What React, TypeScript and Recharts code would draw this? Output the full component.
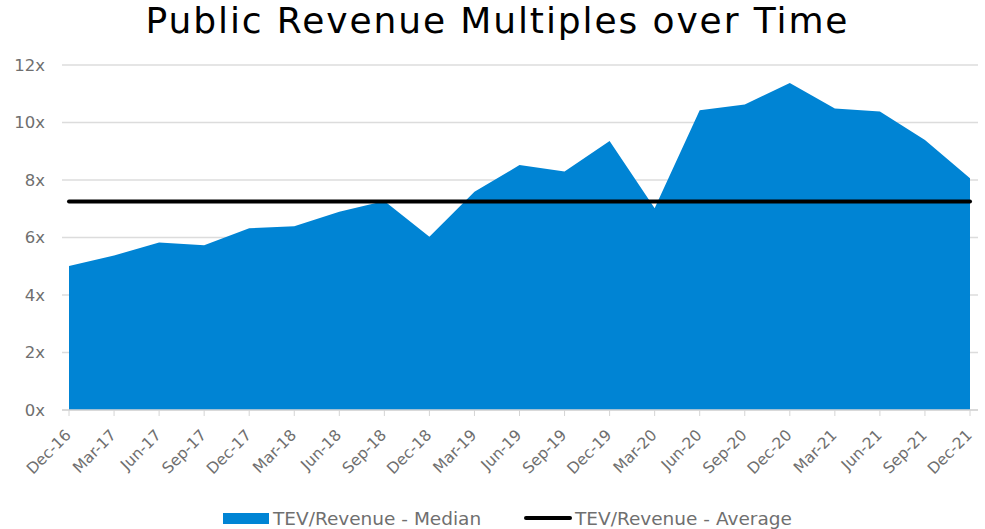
import { Area, CartesianGrid, ComposedChart, Line, XAxis, YAxis } from "recharts";

const quarters = [
  "Dec-16", "Mar-17", "Jun-17", "Sep-17", "Dec-17", "Mar-18", "Jun-18", "Sep-18",
  "Dec-18", "Mar-19", "Jun-19", "Sep-19", "Dec-19", "Mar-20", "Jun-20", "Sep-20",
  "Dec-20", "Mar-21", "Jun-21", "Sep-21", "Dec-21",
];
const medianMultiple = [
  5.01, 5.37, 5.83, 5.73, 6.32, 6.39, 6.9, 7.27, 6.03, 7.59, 8.52, 8.3, 9.36, 7.02,
  10.43, 10.63, 11.37, 10.49, 10.38, 9.39, 8.06,
];
const averageMultiple = [
  7.25, 7.25, 7.25, 7.25, 7.25, 7.25, 7.25, 7.25, 7.25, 7.25, 7.25, 7.25, 7.25, 7.25,
  7.25, 7.25, 7.25, 7.25, 7.25, 7.25, 7.25,
];
const yTicks = [0, 2, 4, 6, 8, 10, 12];

const data = quarters.map((q, i) => ({ date: q, median: medianMultiple[i], average: averageMultiple[i] }));

const FONT = "'DejaVu Sans', sans-serif";
const GREY = "#6f6f6f";
const BLUE = "#0084d4";

const RotTick = (props: any) => {
  const { x, y, payload } = props;
  const ax = x + 3;
  const ay = y + 18;
  return (
    <text
      x={ax}
      y={ay}
      transform={`rotate(-45 ${ax} ${ay})`}
      textAnchor="end"
      fill={GREY}
      fontSize={15.5}
      fontFamily={FONT}
    >
      {payload.value}
    </text>
  );
};

export default function App() {
  return (
    <div style={{ position: "absolute", left: 0, top: 0, width: 985, height: 529, background: "#fff", fontFamily: FONT }}>
      <ComposedChart width={985} height={529} data={data} margin={{ top: 65, right: 7, bottom: 0, left: 10 }}>
        <CartesianGrid vertical={false} stroke="#dcdcdc" strokeWidth={1.5} />
        <XAxis
          dataKey="date"
          interval={0}
          padding={{ left: 7, right: 8 }}
          height={119}
          tick={<RotTick />}
          tickSize={6}
          tickLine={{ stroke: "#d4d4d4" }}
          axisLine={{ stroke: "#d4d4d4", strokeWidth: 1.5 }}
        />
        <YAxis
          domain={[0, 12]}
          ticks={yTicks}
          width={52}
          axisLine={false}
          tickLine={false}
          tickSize={0}
          tickMargin={17}
          tick={{ fill: GREY, fontSize: 16.5, fontFamily: FONT }}
          tickFormatter={(v) => `${v}x`}
        />
        <Area dataKey="median" type="linear" fill={BLUE} fillOpacity={1} stroke="none" isAnimationActive={false} />
        <Line dataKey="average" type="linear" stroke="#000" strokeWidth={4} strokeLinecap="round" dot={false} isAnimationActive={false} />
      </ComposedChart>
      <div
        style={{
          position: "absolute", top: 0, left: 5, width: 985, textAlign: "center",
          fontSize: 36, lineHeight: "42px", color: "#000", letterSpacing: 1.9, whiteSpace: "nowrap",
        }}
      >
        Public Revenue Multiples over Time
      </div>
      <div style={{ position: "absolute", top: 507, left: 223, height: 22, display: "flex", alignItems: "center", color: GREY, fontSize: 18.5 }}>
        <span style={{ display: "inline-block", width: 46, height: 11, background: BLUE, marginRight: 4 }} />
        <span>TEV/Revenue - Median</span>
      </div>
      <div style={{ position: "absolute", top: 507, left: 524, height: 22, display: "flex", alignItems: "center", color: GREY, fontSize: 18.5 }}>
        <span style={{ display: "inline-block", width: 48, height: 4, borderRadius: 2, background: "#000", marginRight: 3 }} />
        <span>TEV/Revenue - Average</span>
      </div>
    </div>
  );
}
